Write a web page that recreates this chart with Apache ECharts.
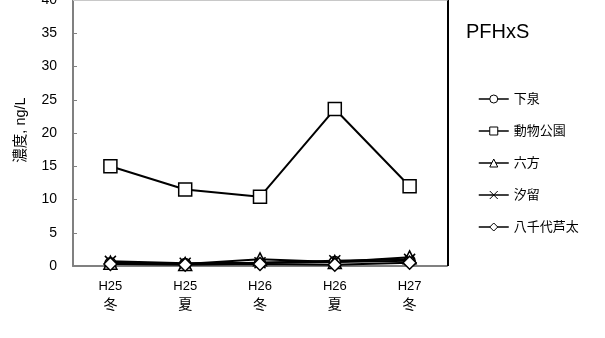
<!DOCTYPE html>
<html>
<head>
<meta charset="utf-8">
<script src="https://cdn.jsdelivr.net/npm/echarts@6/dist/echarts.min.js"></script>
<style>
  html, body { margin: 0; padding: 0; background: #fff; }
  #chart { width: 605px; height: 338px; }
</style>
</head>
<body>
<div id="chart"></div>
<script>
// Sampling periods (year / season)
const categories = ['H25\n冬', 'H25\n夏', 'H26\n冬', 'H26\n夏', 'H27\n冬'];

// PFHxS concentration by site, ng/L
const shimoizumi = [0.4, 0.3, 0.5, 0.6, 0.8];
const doubutsuKoen = [15.0, 11.5, 10.4, 23.6, 12.0];
const roppo = [0.5, 0.3, 1.0, 0.6, 1.3];
const shiodome = [0.7, 0.4, 0.5, 0.8, 1.0];
const yachiyoAshibuto = [0.3, 0.2, 0.3, 0.2, 0.5];

const yTicks = { min: 0, max: 40, interval: 5 };

const FONT = '"Liberation Sans", Arial, "Noto Sans CJK JP", sans-serif';
const CROSS = 'path://M0,0L10,10M10,0L0,10';

function site(name, data, symbol, size) {
  return {
    name: name,
    type: 'line',
    data: data,
    symbol: symbol,
    symbolSize: size,
    showAllSymbol: true,
    lineStyle: { color: '#000', width: 2 },
    itemStyle: { color: '#fff', borderColor: '#000', borderWidth: 1.5 },
    emphasis: { disabled: true },
    z: 3
  };
}

const chart = echarts.init(document.getElementById('chart'), null, { renderer: 'canvas' });
chart.setOption({
  animation: false,
  backgroundColor: '#fff',
  textStyle: { fontFamily: FONT },
  title: {
    text: 'PFHxS',
    left: 461,
    top: 17,
    textStyle: { fontSize: 20, fontWeight: 'normal', color: '#000', fontFamily: FONT }
  },
  legend: {
    orient: 'vertical',
    left: 473,
    top: 87,
    itemGap: 18,
    itemWidth: 30,
    itemHeight: 10,
    itemStyle: { color: '#fff', borderColor: '#000', borderWidth: 1 },
    lineStyle: { color: '#000', width: 1.5 },
    textStyle: { fontSize: 13, lineHeight: 14, color: '#000', fontFamily: FONT },
    data: ['下泉', '動物公園', '六方', '汐留', '八千代芦太']
  },
  grid: { left: 73, right: 158, top: 0, bottom: 72, outerBoundsMode: 'none', containLabel: false },
  xAxis: {
    type: 'category',
    data: categories,
    boundaryGap: true,
    axisLine: { lineStyle: { color: '#808080', width: 2 } },
    axisTick: { show: false },
    axisLabel: {
      color: '#000',
      margin: 11,
      fontFamily: FONT,
      formatter: function (v) {
        const parts = v.split('\n');
        return '{y|' + parts[0] + '}\n{s|' + parts[1] + '}';
      },
      rich: {
        y: { fontSize: 13, lineHeight: 19, fontFamily: FONT, color: '#000' },
        s: { fontSize: 14, lineHeight: 19, fontFamily: FONT, color: '#000' }
      }
    }
  },
  yAxis: {
    type: 'value',
    min: yTicks.min,
    max: yTicks.max,
    interval: yTicks.interval,
    name: '濃度, ng/L',
    nameLocation: 'middle',
    nameGap: 45,
    nameTextStyle: { color: '#000', fontSize: 14.5, fontFamily: FONT, padding: [0, 0, 0, 6] },
    axisLine: { show: true, lineStyle: { color: '#808080', width: 2 } },
    axisTick: { show: true, inside: true, length: 4, lineStyle: { color: '#808080' } },
    axisLabel: { color: '#000', fontSize: 14, margin: 16, fontFamily: FONT },
    splitLine: { show: false }
  },
  series: [
    site('下泉', shimoizumi, 'circle', 11),
    site('動物公園', doubutsuKoen, 'rect', 13),
    site('六方', roppo, 'triangle', 13),
    site('汐留', shiodome, CROSS, 11),
    site('八千代芦太', yachiyoAshibuto, 'diamond', 13),
    {
      // right-hand frame of the plot area
      type: 'line',
      data: [],
      markLine: {
        silent: true,
        symbol: 'none',
        label: { show: false },
        lineStyle: { color: '#000', width: 2, type: 'solid' },
        data: [[{ x: 447.5, y: 0 }, { x: 447.5, y: 266 }]]
      }
    },
    {
      // top edge of the plot area
      type: 'line',
      data: [],
      markLine: {
        silent: true,
        symbol: 'none',
        label: { show: false },
        lineStyle: { color: '#c8c8c8', width: 2, type: 'solid' },
        data: [[{ x: 73, y: 0 }, { x: 447.5, y: 0 }]]
      }
    }
  ]
});
</script>
</body>
</html>
